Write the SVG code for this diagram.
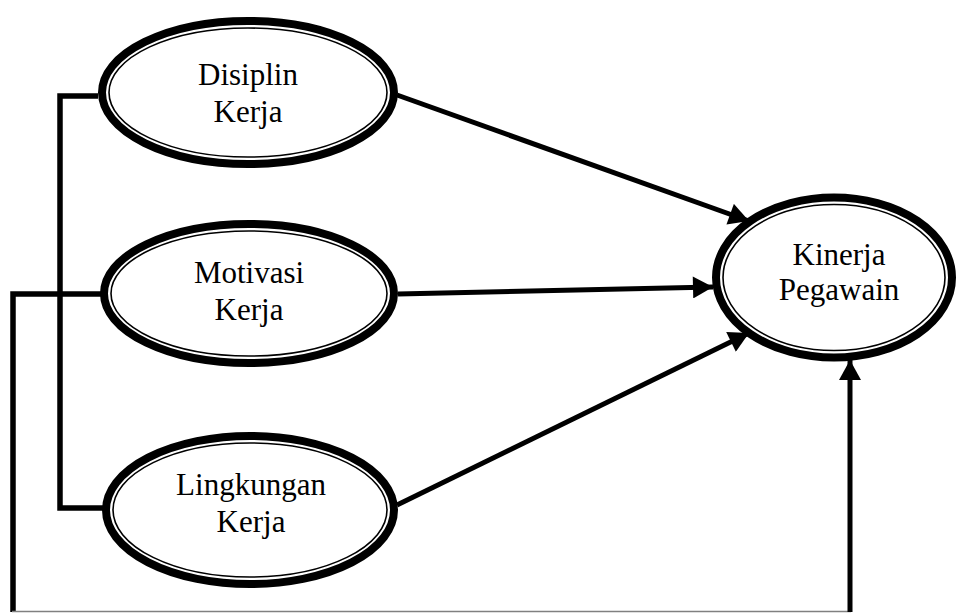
<svg xmlns="http://www.w3.org/2000/svg" width="958" height="613" viewBox="0 0 958 613">
<defs>
<marker id="ah" markerUnits="userSpaceOnUse" markerWidth="22" markerHeight="22" viewBox="0 0 20 22" refX="20" refY="11" orient="auto">
<path d="M0,0 L20,11 L0,22 Z" fill="#000"/>
</marker>
</defs>
<style>
.o{fill:#fff;stroke:#000;stroke-width:8}
.i{fill:none;stroke:#000;stroke-width:1.6}
.t{font-family:"Liberation Serif","Times New Roman",serif;font-size:31px;fill:#000;text-anchor:middle}
.c{fill:none;stroke:#000;stroke-width:5.5}
.a{fill:none;stroke:#000;stroke-width:5;marker-end:url(#ah)}
</style>
<rect width="958" height="613" fill="#fff"/>
<g id="connectors">
<path class="c" d="M98,96 H60 V508 H103"/>
<path class="c" d="M101,294 H13 V612"/>
<line x1="12" y1="611.5" x2="851" y2="611.5" stroke="#808080" stroke-width="1.5"/>
<line class="a" x1="397" y1="95" x2="749" y2="221"/>
<line class="a" x1="398" y1="294" x2="713" y2="287"/>
<line class="a" x1="397" y1="505" x2="749" y2="333"/>
<line class="a" x1="850" y1="612" x2="850" y2="360"/>
</g>
<g id="disiplin">
<ellipse class="o" cx="248" cy="92.5" rx="146" ry="71.5"/>
<ellipse class="i" cx="248" cy="92.5" rx="139" ry="64.5"/>
<text class="t" x="248" y="85">Disiplin</text>
<text class="t" x="248" y="122">Kerja</text>
</g>
<g id="motivasi">
<ellipse class="o" cx="249" cy="293.5" rx="145" ry="69.5"/>
<ellipse class="i" cx="249" cy="293.5" rx="138" ry="62.5"/>
<text class="t" x="249" y="283">Motivasi</text>
<text class="t" x="249" y="320">Kerja</text>
</g>
<g id="lingkungan">
<ellipse class="o" cx="250" cy="510" rx="144" ry="74"/>
<ellipse class="i" cx="250" cy="510" rx="137" ry="67"/>
<text class="t" x="251" y="495">Lingkungan</text>
<text class="t" x="251" y="532">Kerja</text>
</g>
<g id="kinerja">
<ellipse class="o" cx="834" cy="277.5" rx="118" ry="80"/>
<ellipse class="i" cx="834" cy="277.5" rx="111" ry="73"/>
<text class="t" x="839" y="265">Kinerja</text>
<text class="t" x="839" y="300">Pegawain</text>
</g>
</svg>
